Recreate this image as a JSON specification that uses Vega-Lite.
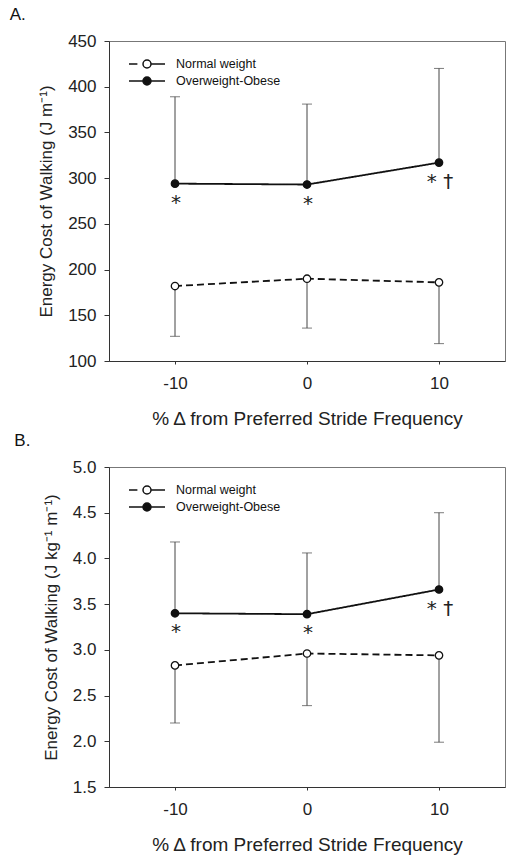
{
  "$schema": "https://vega.github.io/schema/vega-lite/v6.json",
  "background": "white",
  "padding": {"left": 9, "top": 5, "right": 3, "bottom": 5},
  "datasets": {
    "a": [
      {"pct": -10, "group": "Normal weight", "mean": 182, "bound": 127, "note": ""},
      {"pct": 0, "group": "Normal weight", "mean": 190, "bound": 136, "note": ""},
      {"pct": 10, "group": "Normal weight", "mean": 186, "bound": 119, "note": ""},
      {"pct": -10, "group": "Overweight-Obese", "mean": 294, "bound": 389, "note": "*"},
      {"pct": 0, "group": "Overweight-Obese", "mean": 293, "bound": 381, "note": "*"},
      {"pct": 10, "group": "Overweight-Obese", "mean": 317, "bound": 420, "note": "* †"}
    ],
    "b": [
      {"pct": -10, "group": "Normal weight", "mean": 2.83, "bound": 2.2, "note": ""},
      {"pct": 0, "group": "Normal weight", "mean": 2.96, "bound": 2.39, "note": ""},
      {"pct": 10, "group": "Normal weight", "mean": 2.94, "bound": 1.99, "note": ""},
      {"pct": -10, "group": "Overweight-Obese", "mean": 3.4, "bound": 4.18, "note": "*"},
      {"pct": 0, "group": "Overweight-Obese", "mean": 3.39, "bound": 4.06, "note": "*"},
      {"pct": 10, "group": "Overweight-Obese", "mean": 3.66, "bound": 4.5, "note": "* †"}
    ]
  },
  "config": {
    "font": "Liberation Sans",
    "view": {"stroke": "#777", "strokeWidth": 1},
    "axis": {
      "grid": false,
      "domainColor": "#333",
      "tickColor": "#333",
      "tickSize": 5,
      "labelColor": "#222",
      "labelFont": "Liberation Sans",
      "labelFontSize": 17,
      "titleFont": "Liberation Sans",
      "titleFontWeight": "normal",
      "titleColor": "#222"
    },
    "axisX": {"tickSize": 3, "labelPadding": 11, "titleFontSize": 19, "titlePadding": 18, "labelFlush": false},
    "axisY": {"labelPadding": 8, "titleFontSize": 17, "titlePadding": 12},
    "legend": {
      "labelFont": "Liberation Sans",
      "labelFontSize": 12.5,
      "labelColor": "#111"
    },
    "title": {"fontSize": 17, "fontWeight": "normal", "font": "Liberation Sans", "color": "#111", "anchor": "start", "frame": "bounds"}
  },
  "spacing": 2,
  "resolve": {
    "scale": {"shape": "independent", "fill": "independent"},
    "legend": {"shape": "independent", "fill": "independent"}
  },
  "vconcat": [
    {
      "title": {"text": "A.", "dx": -28, "offset": 8},
      "width": 396,
      "height": 320,
      "data": {"name": "a"},
      "encoding": {
        "x": {"field": "pct", "type": "quantitative", "scale": {"domain": [-15, 15]}, "axis": {"values": [-10, 0, 10], "labelExpr": "'' + datum.value", "title": "% Δ from Preferred Stride Frequency"}}
      },
      "layer": [
        {
          "mark": {"type": "rule", "color": "#444", "strokeWidth": 1},
          "encoding": {
            "y": {"field": "mean", "type": "quantitative", "scale": {"domain": [100, 450]}, "axis": {"values": [100, 150, 200, 250, 300, 350, 400, 450], "title": "Energy Cost of Walking (J m⁻¹)"}},
            "y2": {"field": "bound"}
          }
        },
        {
          "mark": {"type": "tick", "color": "#444", "thickness": 1, "size": 10, "orient": "horizontal"},
          "encoding": {"y": {"field": "bound", "type": "quantitative"}}
        },
        {
          "mark": {"type": "line", "color": "#111", "strokeWidth": 1.8},
          "encoding": {
            "y": {"field": "mean", "type": "quantitative"},
            "detail": {"field": "group"},
            "strokeDash": {"condition": {"test": "datum.group === 'Normal weight'", "value": [7, 4]}, "value": [1, 0]}
          }
        },
        {
          "mark": {"type": "point", "shape": "circle", "size": 55, "filled": true, "stroke": "#111", "strokeWidth": 1.3, "opacity": 1},
          "encoding": {
            "y": {"field": "mean", "type": "quantitative"},
            "fill": {"condition": {"test": "datum.group === 'Overweight-Obese'", "value": "#111"}, "value": "white"}
          }
        },
        {
          "transform": [{"filter": "datum.note !== ''"}],
          "mark": {"type": "text", "dy": 19, "dx": 1, "fontSize": 20, "font": "DejaVu Sans", "fill": "#222"},
          "encoding": {
            "y": {"field": "mean", "type": "quantitative"},
            "text": {"field": "note"}
          }
        },
        {
          "mark": {"type": "point", "filled": true, "stroke": "#111", "strokeWidth": 1.5, "opacity": 0},
          "encoding": {
            "y": {"field": "mean", "type": "quantitative"},
            "shape": {"field": "group", "type": "nominal", "scale": {"domain": ["Normal weight", "Overweight-Obese"], "range": ["M-2.25,0H-1.2M-0.5,0A0.5,0.5 0 1 1 0.5,0A0.5,0.5 0 1 1 -0.5,0M0.5,0H2.25", "M-2.25,0H-0.5M-0.5,0A0.5,0.5 0 1 1 0.5,0A0.5,0.5 0 1 1 -0.5,0M0.5,0H2.25"]},
              "legend": {"orient": "none", "legendX": 29, "legendY": 14, "title": null, "padding": 0, "labelOffset": 20, "rowPadding": 1, "symbolSize": 256, "symbolOpacity": 1, "encode": {"symbols": {"stroke": {"value": "#111"}, "strokeWidth": {"value": 1.5}, "opacity": {"value": 1}}}}},
            "fill": {"field": "group", "type": "nominal", "scale": {"domain": ["Normal weight", "Overweight-Obese"], "range": ["white", "#111"]},
              "legend": {"orient": "none", "legendX": 29, "legendY": 14, "title": null, "padding": 0, "labelOffset": 20, "rowPadding": 1, "symbolSize": 256, "symbolOpacity": 1, "encode": {"symbols": {"stroke": {"value": "#111"}, "strokeWidth": {"value": 1.5}, "opacity": {"value": 1}}}}}
          }
        }
      ]
    },
    {
      "title": {"text": "B.", "dx": -28, "offset": 8},
      "width": 396,
      "height": 320,
      "data": {"name": "b"},
      "encoding": {
        "x": {"field": "pct", "type": "quantitative", "scale": {"domain": [-15, 15]}, "axis": {"values": [-10, 0, 10], "labelExpr": "'' + datum.value", "title": "% Δ from Preferred Stride Frequency"}}
      },
      "layer": [
        {
          "mark": {"type": "rule", "color": "#444", "strokeWidth": 1},
          "encoding": {
            "y": {"field": "mean", "type": "quantitative", "scale": {"domain": [1.5, 5]}, "axis": {"values": [1.5, 2, 2.5, 3, 3.5, 4, 4.5, 5], "format": ".1f", "title": "Energy Cost of Walking (J kg⁻¹ m⁻¹)"}},
            "y2": {"field": "bound"}
          }
        },
        {
          "mark": {"type": "tick", "color": "#444", "thickness": 1, "size": 10, "orient": "horizontal"},
          "encoding": {"y": {"field": "bound", "type": "quantitative"}}
        },
        {
          "mark": {"type": "line", "color": "#111", "strokeWidth": 1.8},
          "encoding": {
            "y": {"field": "mean", "type": "quantitative"},
            "detail": {"field": "group"},
            "strokeDash": {"condition": {"test": "datum.group === 'Normal weight'", "value": [7, 4]}, "value": [1, 0]}
          }
        },
        {
          "mark": {"type": "point", "shape": "circle", "size": 55, "filled": true, "stroke": "#111", "strokeWidth": 1.3, "opacity": 1},
          "encoding": {
            "y": {"field": "mean", "type": "quantitative"},
            "fill": {"condition": {"test": "datum.group === 'Overweight-Obese'", "value": "#111"}, "value": "white"}
          }
        },
        {
          "transform": [{"filter": "datum.note !== ''"}],
          "mark": {"type": "text", "dy": 19, "dx": 1, "fontSize": 20, "font": "DejaVu Sans", "fill": "#222"},
          "encoding": {
            "y": {"field": "mean", "type": "quantitative"},
            "text": {"field": "note"}
          }
        },
        {
          "mark": {"type": "point", "filled": true, "stroke": "#111", "strokeWidth": 1.5, "opacity": 0},
          "encoding": {
            "y": {"field": "mean", "type": "quantitative"},
            "shape": {"field": "group", "type": "nominal", "scale": {"domain": ["Normal weight", "Overweight-Obese"], "range": ["M-2.25,0H-1.2M-0.5,0A0.5,0.5 0 1 1 0.5,0A0.5,0.5 0 1 1 -0.5,0M0.5,0H2.25", "M-2.25,0H-0.5M-0.5,0A0.5,0.5 0 1 1 0.5,0A0.5,0.5 0 1 1 -0.5,0M0.5,0H2.25"]},
              "legend": {"orient": "none", "legendX": 29, "legendY": 14, "title": null, "padding": 0, "labelOffset": 20, "rowPadding": 1, "symbolSize": 256, "symbolOpacity": 1, "encode": {"symbols": {"stroke": {"value": "#111"}, "strokeWidth": {"value": 1.5}, "opacity": {"value": 1}}}}},
            "fill": {"field": "group", "type": "nominal", "scale": {"domain": ["Normal weight", "Overweight-Obese"], "range": ["white", "#111"]},
              "legend": {"orient": "none", "legendX": 29, "legendY": 14, "title": null, "padding": 0, "labelOffset": 20, "rowPadding": 1, "symbolSize": 256, "symbolOpacity": 1, "encode": {"symbols": {"stroke": {"value": "#111"}, "strokeWidth": {"value": 1.5}, "opacity": {"value": 1}}}}}
          }
        }
      ]
    }
  ]
}
